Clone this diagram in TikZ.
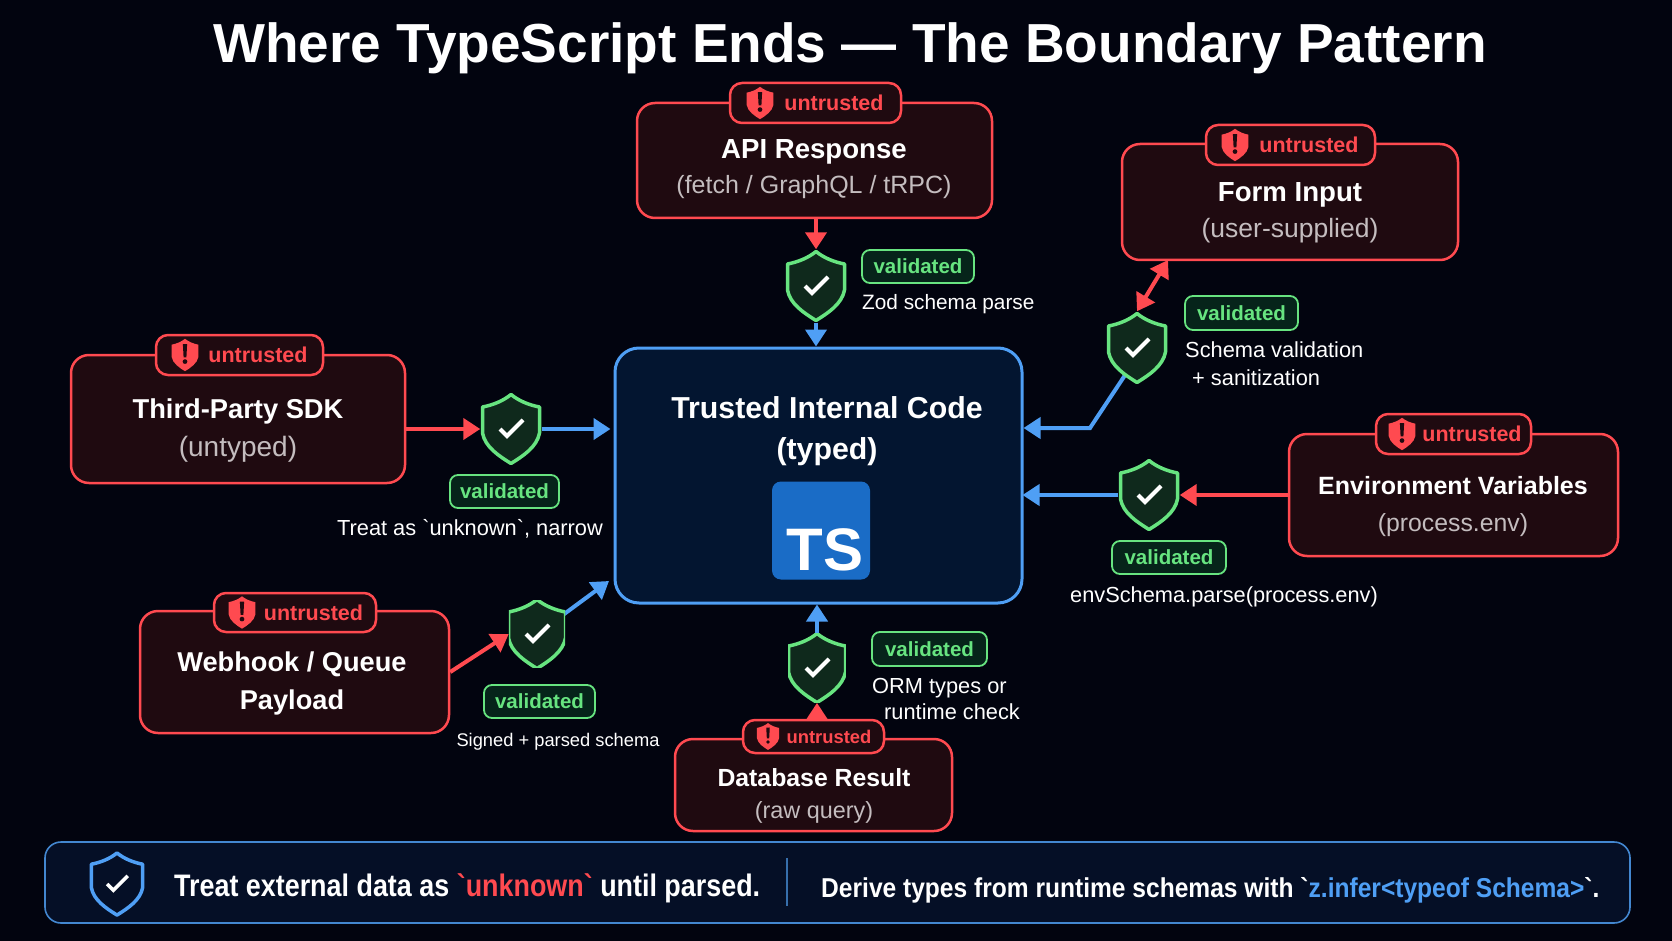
\documentclass[tikz,border=0pt]{standalone}
\usepackage{fontspec}
\setmainfont[Ligatures=TeXOff]{Liberation Sans}
\newfontfamily\barfont[Ligatures=TeXOff,FakeStretch=.865]{Liberation Sans}
\newfontfamily\derivefont[Ligatures=TeXOff,FakeStretch=.9]{Liberation Sans}
\usetikzlibrary{arrows.meta,backgrounds}

\definecolor{pagebg}{HTML}{02040F}
\definecolor{linered}{HTML}{FF4A50}
\definecolor{boxred}{HTML}{1F0A10}
\definecolor{lineblue}{HTML}{4F9FF5}
\definecolor{boxblue}{HTML}{031530}
\definecolor{barblue}{HTML}{050F26}
\definecolor{tsblue}{HTML}{1A6CC6}
\definecolor{okgreen}{HTML}{67E480}
\definecolor{okfill}{HTML}{0F291C}
\definecolor{tagfill}{HTML}{06241A}
\definecolor{subgrey}{HTML}{C4BDBF}

\newcommand{\fs}[1]{\fontsize{#1}{#1}\selectfont}

\tikzset{
  shield outline/.style={insert path={
    (0,-34.5) .. controls (-8,-28) and (-18,-24) .. (-28.5,-22) -- (-28.5,4)
    .. controls (-26,18) and (-12,27) .. (0,34.5)
    .. controls (12,27) and (26,18) .. (28.5,4) -- (28.5,-22)
    .. controls (18,-24) and (8,-28) .. (0,-34.5) -- cycle}},
  guard/.style={inner sep=0pt,minimum width=61*#1,minimum height=73*#1,
    path picture={
      \begin{scope}[shift={(path picture bounding box.center)},scale=#1]
        \draw[shield outline,draw=okgreen,fill=okfill,line width=3.5pt,line join=round];
        \draw[white,line width=4pt,line join=miter] (-11,0) -- (-4,7) -- (12,-9);
      \end{scope}}},
  alertmark/.pic={
    \fill[shield outline,linered];
    \fill[boxred] (-4.5,-23) -- (4.5,-23) -- (3,5) -- (-3,5) -- cycle;
    \fill[boxred] (0,14) circle (5);
  },
  barmark/.pic={
    \draw[shield outline,draw=lineblue,fill=barblue,line width=3.5pt,line join=round];
    \draw[white,line width=3.5pt] (-11,0) -- (-4,7) -- (12,-9);
  },
  srcbox/.style={draw=linered,fill=boxred,line width=2.5pt,rounded corners=18pt,inner sep=0pt},
  srctext/.style={align=center,text=white,inner sep=0pt},
  badge/.style={draw=linered,fill=boxred,line width=2.5pt,rounded corners=12pt,inner sep=0pt,
    text=linered,font=\bfseries\fs{21.5}},
  tag/.style={draw=okgreen,fill=tagfill,line width=1.8pt,rounded corners=8pt,inner sep=0pt,
    text=okgreen,font=\bfseries\fs{20.5}},
  note/.style={text=white,inner sep=0pt,font=\fs{21.8},align=left},
  redline/.style={-{Triangle[length=17pt,width=21pt]},line width=4pt,draw=linered},
  blueline/.style={-{Triangle[length=17pt,width=21pt]},line width=4pt,draw=lineblue},
}

\begin{document}
\begin{tikzpicture}[x=1pt,y=-1pt]
  \useasboundingbox (0,0) rectangle (1672,941);
  \begin{pgfonlayer}{background}
    \fill[pagebg] (0,0) rectangle (1672,941);
  \end{pgfonlayer}

  \node[text=white,inner sep=0pt,font=\bfseries\fs{55}] (title) at (850,48) {Where TypeScript Ends — The Boundary Pattern};

  % centre
  \node[draw=lineblue,fill=boxblue,line width=3pt,rounded corners=24pt,minimum width=407pt,minimum height=255pt,inner sep=0pt] (trusted) at (818.5,475.5) {};
  \node[text=white,inner sep=0pt,align=center,font=\bfseries\fs{30.3}] (trustedText) at (827,431) {Trusted Internal Code\\[11pt](typed)};
  \node[fill=tsblue,rounded corners=9pt,minimum size=98pt,inner sep=0pt,text=white,font=\bfseries\fs{60},text height=79pt,text depth=0pt] (tsLogo) at (821,530.5) {\hspace{8pt}TS};

  % sources
  \node[srcbox,minimum width=355pt,minimum height=115pt] (api) at (814.5,160.5) {};
  \node[srctext] (apiText) at (814,169) {{\bfseries\fs{27.6}API Response}\\[10pt]{\fs{25}\color{subgrey}(fetch / GraphQL / tRPC)}};
  \node[badge,minimum width=171pt,minimum height=40pt] (apiBadge) at (815.5,103) {\hspace{37pt}untrusted};
  \pic[scale=.47] at (760,103) {alertmark};

  \node[srcbox,minimum width=336pt,minimum height=116pt] (form) at (1290,202) {};
  \node[srctext] (formText) at (1290,213) {{\bfseries\fs{27.6}Form Input}\\[10pt]{\fs{26.5}\color{subgrey}(user-supplied)}};
  \node[badge,minimum width=169pt,minimum height=40pt] (formBadge) at (1290.5,145) {\hspace{37pt}untrusted};
  \pic[scale=.47] at (1235,145) {alertmark};

  \node[srcbox,minimum width=334pt,minimum height=128pt] (sdk) at (238,419) {};
  \node[srctext] (sdkText) at (238,430.5) {{\bfseries\fs{27.3}Third-Party SDK}\\[12pt]{\fs{28}\color{subgrey}(untyped)}};
  \node[badge,minimum width=167pt,minimum height=40pt] (sdkBadge) at (239.5,355) {\hspace{37pt}untrusted};
  \pic[scale=.47] at (185,355) {alertmark};

  \node[srcbox,minimum width=329pt,minimum height=122pt] (env) at (1453.5,495) {};
  \node[srctext] (envText) at (1453,506.5) {{\bfseries\fs{25}Environment Variables}\\[17pt]{\fs{24.8}\color{subgrey}(process.env)}};
  \node[badge,minimum width=155pt,minimum height=40pt] (envBadge) at (1453.5,434) {\hspace{37pt}untrusted};
  \pic[scale=.47] at (1402,434) {alertmark};

  \node[srcbox,minimum width=309pt,minimum height=122pt] (hook) at (294.5,672) {};
  \node[srctext] (hookText) at (292,683) {{\bfseries\fs{27.2}Webhook / Queue}\\[12pt]{\bfseries\fs{27.2}Payload}};
  \node[badge,minimum width=162pt,minimum height=39pt] (hookBadge) at (295,612.5) {\hspace{37pt}untrusted};
  \pic[scale=.47] at (242,612.5) {alertmark};

  \node[srcbox,minimum width=277pt,minimum height=92pt] (db) at (813.5,785) {};
  \node[srctext] (dbText) at (814,796) {{\bfseries\fs{24.8}Database Result}\\[14pt]{\fs{23.4}\color{subgrey}(raw query)}};
  \node[badge,minimum width=141pt,minimum height=33pt,font=\bfseries\fs{18.4}] (dbBadge) at (813.5,736.5) {\hspace{31pt}untrusted};
  \pic[scale=.39] at (768,736.5) {alertmark};

  % shields
  \node[guard=1] (gApi) at (816,286) {};
  \node[guard=1] (gForm) at (1137,348) {};
  \node[guard=1] (gSdk) at (511,429) {};
  \node[guard=1] (gEnv) at (1149,495) {};
  \node[guard=.92] (gHook) at (537,634) {};
  \node[guard=.95] (gDb) at (817,668) {};

  % tags and notes
  \node[tag,minimum width=112pt,minimum height=33pt] (tApi) at (918,266.5) {validated};
  \node[note,anchor=west,font=\fs{20.8}] (nApi) at (862,304) {Zod schema parse};
  \node[tag,minimum width=113pt,minimum height=34pt] (tForm) at (1241.5,313) {validated};
  \node[note,anchor=west] (nForm) at (1185,350) {Schema validation};
  \node[note,anchor=west] (nFormB) at (1192,378) {+ sanitization};
  \node[tag,minimum width=109pt,minimum height=33pt] (tSdk) at (504.5,491.5) {validated};
  \node[note] (nSdk) at (470,529) {Treat as `unknown`, narrow};
  \node[tag,minimum width=114pt,minimum height=33pt] (tEnv) at (1169,557.5) {validated};
  \node[note] (nEnv) at (1224,597) {envSchema.parse(process.env)};
  \node[tag,minimum width=111pt,minimum height=33pt] (tHook) at (539.5,701.5) {validated};
  \node[note,font=\fs{18.3}] (nHook) at (558,742) {Signed + parsed schema};
  \node[tag,minimum width=115pt,minimum height=34pt] (tDb) at (929.5,649) {validated};
  \node[note,anchor=west] (nDb) at (872,688) {ORM types or};
  \node[note,anchor=west] (nDbB) at (884,712) {runtime check};

  % connectors
  \coordinate (formTip) at (1168,260);
  \coordinate (formBend) at (1090,428);
  \coordinate (hookTip) at (609,581);
  \draw[redline] (gApi.north |- api.south) -- (gApi.north);
  \draw[blueline] (gApi.south) -- (gApi.south |- trusted.north);
  \draw[redline,{Triangle[length=17pt,width=21pt]}-{Triangle[length=17pt,width=21pt]}] (gForm.north) -- (formTip);
  \draw[redline] (gSdk.west -| sdk.east) -- (gSdk.west);
  \draw[blueline,shorten >=3pt] (gSdk.east) -- (gSdk.east -| trusted.west);
  \draw[redline] (gEnv.east -| env.west) -- (gEnv.east);
  \draw[blueline,shorten >=-1pt] (gEnv.west) -- (gEnv.west -| trusted.east);
  \draw[redline] (hook.east) -- (gHook.west);
  \draw[redline] (gDb.south |- dbBadge.north) -- (gDb.south);
  \draw[blueline] (gDb.north) -- (gDb.north |- trusted.south);
  \begin{pgfonlayer}{background}
    \draw[blueline,line join=miter] ([xshift=6pt]gForm.center) -- (formBend) -- (formBend -| trusted.east);
    \draw[blueline] (gHook.center) -- (hookTip);
  \end{pgfonlayer}

  % bottom bar
  \node[draw=lineblue!85!black,fill=barblue,line width=1.6pt,rounded corners=16pt,minimum width=1585pt,minimum height=81pt,inner sep=0pt] (bar) at (837.5,882.5) {};
  \pic[scale=.9] at (117,884) {barmark};
  \node[text=white,inner sep=0pt,anchor=west,font=\barfont\bfseries\fs{31.1}] (barLeft) at (174,888) {Treat external data as \textcolor{linered}{`unknown`} until parsed.};
  \draw[lineblue!70!black,line width=1.5pt] (787,858) -- (787,906);
  \node[text=white,inner sep=0pt,anchor=west,font=\derivefont\bfseries\fs{27.3}] (barRight) at (821,890) {Derive types from runtime schemas with `\textcolor{lineblue}{z.infer<typeof Schema>}`.};
\end{tikzpicture}
\end{document}
